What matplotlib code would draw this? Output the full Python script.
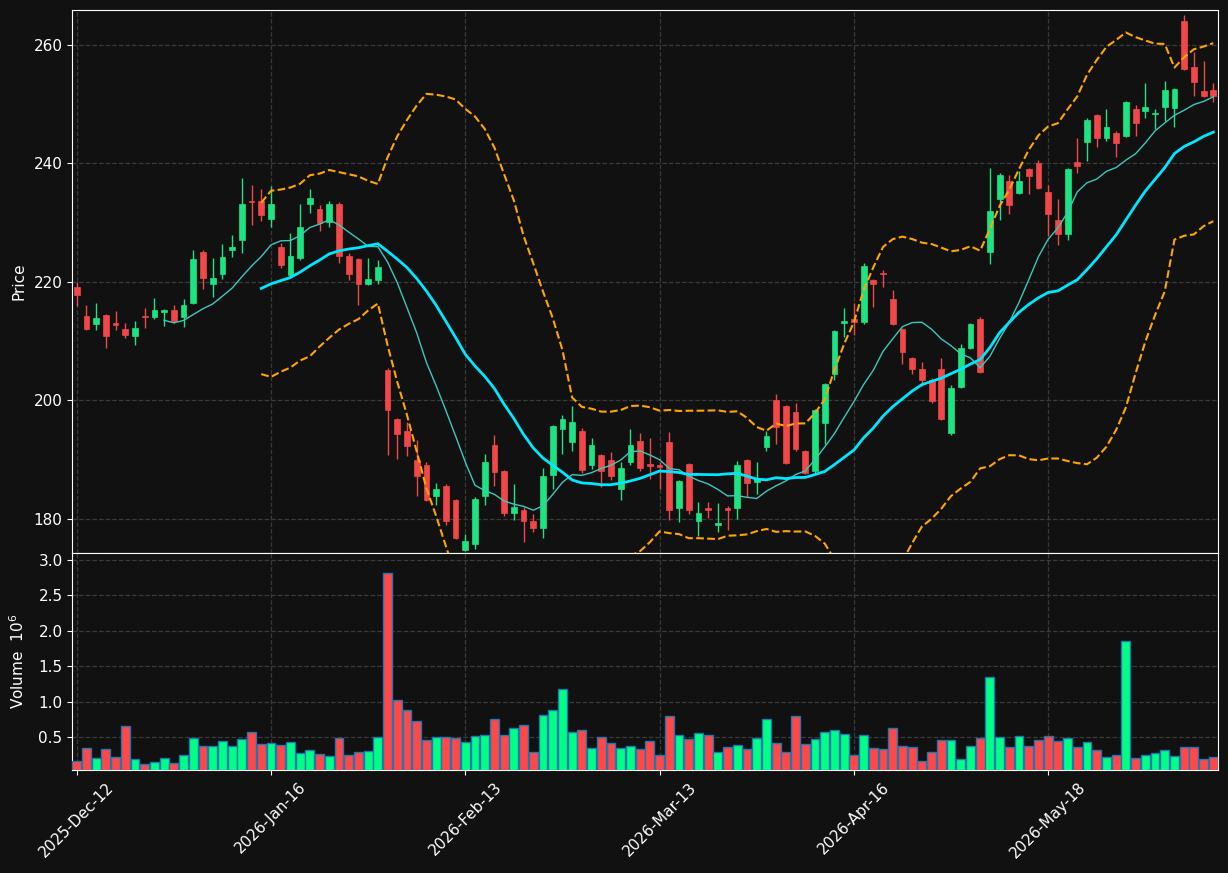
import matplotlib; matplotlib.use('Agg')
import matplotlib.pyplot as plt
import numpy as np

BG = '#111111'
UP = '#1de382'; DN = '#f04848'
VUP = '#00ff84'; VDN = '#ff4848'

opens = [219.2, 214.2, 212.8, 214.4, 213.1, 212.0, 210.9, 214.1, 214.0, 214.9,
         215.3, 214.0, 216.5, 225.1, 219.7, 221.4, 225.3, 227.0, 233.7, 233.7,
         230.6, 225.9, 221.2, 224.0, 233.1, 232.3, 230.1, 233.2, 224.4, 223.9,
         219.7, 220.3, 205.1, 196.8, 194.9, 190.0, 189.0, 183.9, 185.6, 183.2,
         174.8, 175.8, 183.8, 192.4, 188.0, 180.9, 181.5, 179.7, 178.4, 187.4,
         195.1, 192.9, 194.8, 189.0, 190.7, 190.0, 185.0, 189.5, 193.1, 189.3,
         189.0, 192.9, 181.8, 189.2, 179.7, 181.8, 178.9, 181.9, 181.9, 189.9,
         186.2, 192.1, 200.0, 199.0, 198.1, 191.4, 188.0, 196.2, 204.5, 213.0,
         213.8, 213.3, 220.3, 221.5, 217.1, 212.0, 207.1, 205.3, 203.4, 205.3,
         194.4, 202.3, 208.9, 213.8, 225.1, 234.0, 237.1, 235.0, 239.1, 240.1,
         235.2, 230.5, 228.0, 240.2, 243.6, 248.1, 244.2, 245.2, 244.6, 249.2,
         248.9, 248.3, 249.6, 249.4, 264.1, 256.3, 252.2, 252.4]
highs = [219.9, 216.1, 216.5, 214.6, 215.0, 213.1, 213.4, 215.5, 217.3, 215.4,
         216.1, 217.1, 225.3, 225.3, 224.0, 226.4, 227.9, 237.5, 236.4, 235.6,
         236.2, 226.6, 228.3, 233.2, 235.7, 232.9, 233.7, 233.5, 224.8, 224.1,
         224.0, 223.7, 205.5, 197.0, 196.3, 193.3, 189.5, 186.1, 185.8, 183.4,
         177.4, 183.6, 191.0, 194.1, 188.2, 185.9, 182.0, 180.8, 188.6, 195.8,
         197.5, 199.0, 195.3, 193.7, 190.9, 191.2, 189.6, 195.2, 194.4, 193.7,
         189.6, 194.6, 186.5, 189.4, 182.9, 182.9, 182.6, 182.1, 189.8, 190.1,
         189.6, 194.9, 201.0, 199.2, 199.6, 191.6, 198.5, 203.0, 211.9, 215.5,
         216.4, 223.2, 220.5, 222.0, 218.7, 212.2, 207.3, 206.4, 203.7, 207.2,
         202.5, 209.5, 213.0, 214.0, 239.3, 238.4, 238.0, 238.7, 239.3, 240.6,
         236.3, 234.0, 239.2, 244.2, 247.6, 248.3, 249.2, 245.4, 250.5, 249.9,
         253.6, 249.2, 253.9, 252.7, 265.1, 258.8, 257.3, 253.6]
lows = [215.9, 211.9, 211.9, 208.9, 211.8, 210.6, 209.4, 212.2, 213.8, 212.6,
        213.0, 212.4, 216.3, 218.8, 217.4, 220.5, 224.2, 224.8, 229.6, 230.2,
        229.2, 222.4, 220.8, 223.7, 231.6, 228.5, 229.3, 223.2, 220.3, 216.1,
        219.5, 219.6, 190.8, 190.1, 190.6, 183.9, 183.0, 182.3, 178.9, 176.5,
        174.6, 174.9, 182.3, 185.5, 180.5, 179.8, 176.0, 177.7, 176.7, 185.0,
        190.9, 191.4, 187.7, 188.4, 185.3, 186.6, 183.1, 189.1, 188.1, 186.7,
        185.0, 179.8, 179.5, 180.8, 177.1, 180.1, 177.7, 178.1, 179.9, 183.7,
        184.2, 191.4, 192.7, 189.2, 191.5, 187.5, 187.8, 192.7, 203.5, 210.7,
        211.0, 212.8, 215.8, 219.1, 212.7, 206.2, 204.5, 202.4, 199.6, 196.7,
        194.2, 202.1, 208.6, 204.6, 223.0, 230.5, 231.4, 234.8, 234.9, 235.7,
        227.7, 226.3, 227.1, 238.4, 240.4, 242.7, 243.7, 241.1, 244.4, 244.7,
        247.7, 245.8, 247.1, 246.2, 255.7, 251.3, 251.2, 250.3]
closes = [217.7, 212.1, 213.9, 210.9, 212.7, 211.0, 212.2, 214.0, 215.3, 215.3,
          213.4, 216.1, 223.9, 220.7, 220.7, 224.2, 225.8, 233.1, 233.5, 231.3,
          233.1, 222.9, 224.4, 229.2, 234.2, 230.0, 233.2, 224.3, 221.4, 219.7,
          220.5, 222.5, 198.4, 194.3, 192.2, 187.3, 183.2, 185.1, 179.6, 176.7,
          176.3, 183.4, 189.5, 187.9, 180.9, 182.0, 179.6, 178.5, 187.3, 195.6,
          196.8, 196.4, 188.3, 192.4, 188.1, 187.3, 188.5, 192.5, 188.5, 188.9,
          188.8, 181.5, 186.3, 181.4, 180.9, 181.5, 179.2, 181.5, 189.1, 186.0,
          186.8, 193.9, 195.5, 189.4, 191.7, 187.7, 198.3, 202.8, 211.7, 213.4,
          213.3, 222.7, 219.7, 221.3, 212.9, 208.2, 205.2, 203.4, 199.9, 196.9,
          202.0, 208.9, 212.9, 204.8, 232.0, 238.1, 232.9, 237.1, 237.9, 235.9,
          231.4, 228.1, 239.0, 239.6, 247.3, 244.2, 246.1, 243.5, 250.3, 246.8,
          249.6, 248.4, 252.4, 252.5, 255.9, 253.8, 251.4, 251.3]
# volume in millions
volumes = [0.161, 0.345, 0.203, 0.331, 0.218, 0.655, 0.189, 0.119, 0.147, 0.203,
           0.133, 0.246, 0.486, 0.373, 0.373, 0.443, 0.373, 0.472, 0.571, 0.401,
           0.415, 0.387, 0.429, 0.274, 0.316, 0.260, 0.232, 0.486, 0.246, 0.288,
           0.302, 0.500, 2.812, 1.023, 0.881, 0.726, 0.458, 0.500, 0.500, 0.486,
           0.429, 0.514, 0.528, 0.754, 0.528, 0.627, 0.669, 0.288, 0.811, 0.881,
           1.178, 0.571, 0.599, 0.345, 0.500, 0.415, 0.345, 0.373, 0.331, 0.443,
           0.246, 0.797, 0.528, 0.472, 0.556, 0.528, 0.288, 0.359, 0.387, 0.331,
           0.486, 0.754, 0.415, 0.288, 0.797, 0.401, 0.472, 0.571, 0.599, 0.542,
           0.246, 0.528, 0.345, 0.331, 0.627, 0.373, 0.359, 0.161, 0.288, 0.458,
           0.458, 0.189, 0.373, 0.486, 1.347, 0.500, 0.359, 0.514, 0.373, 0.458,
           0.514, 0.443, 0.486, 0.359, 0.429, 0.316, 0.218, 0.246, 1.856, 0.203,
           0.246, 0.274, 0.316, 0.232, 0.359, 0.359, 0.189, 0.218]
tick_labels = ['2025-Dec-12', '2026-Jan-16', '2026-Feb-13', '2026-Mar-13', '2026-Apr-16', '2026-May-18']

o = np.array(opens); h = np.array(highs); l = np.array(lows); c = np.array(closes)
v = np.array(volumes)
x = np.arange(len(c))
up = c >= o

def sma(a, n):
    out = np.full(len(a), np.nan)
    for i in range(n - 1, len(a)):
        out[i] = a[i - n + 1:i + 1].mean()
    return out

def rstd(a, n):
    out = np.full(len(a), np.nan)
    for i in range(n - 1, len(a)):
        out[i] = a[i - n + 1:i + 1].std()
    return out

ma10 = sma(c, 10); ma20 = sma(c, 20); sd20 = rstd(c, 20)
bb_up = ma20 + 2 * sd20; bb_lo = ma20 - 2 * sd20

plt.rcParams['font.family'] = 'DejaVu Sans'
fig = plt.figure(figsize=(12.28, 8.73), dpi=100, facecolor=BG)
L, W = 0.0589, 0.9327
ax = fig.add_axes([L, 0.3671, W, 0.6215], facecolor=BG)
axv = fig.add_axes([L, 0.1180, W, 0.2486], facecolor=BG, sharex=ax)

# candles
cols = np.where(up, UP, DN)
ax.vlines(x, l, h, colors=cols, lw=1.0, zorder=2)
ax.bar(x, np.maximum(np.abs(c - o), 0.15), bottom=np.minimum(o, c), width=0.6,
       color=cols, edgecolor=cols, lw=0.5, zorder=3)

# moving averages + bands
ax.plot(x, ma10, color='#3cc8bc', lw=1.0, zorder=4)
ax.plot(x, ma20, color='#00e8ff', lw=2.0, zorder=4)
ax.plot(x, bb_up, color='#ffa500', lw=1.5, ls='--', zorder=4)
ax.plot(x, bb_lo, color='#ffa500', lw=1.5, ls='--', zorder=4)

# volume
axv.bar(x, v, width=0.92, color=np.where(up, VUP, VDN), edgecolor='#1f77b4', lw=1.0, zorder=3)

ticks = np.arange(0, len(c), 20)[:len(tick_labels)]
for a in (ax, axv):
    a.grid(True, color='#3a3a3a', ls='--', lw=0.9)
    a.set_axisbelow(True)
    for s in a.spines.values():
        s.set_color('white')
    a.tick_params(colors='white', labelsize=11)
    a.set_xticks(ticks)

ax.set_xlim(-0.45, 117.45)
ax.set_ylim(174.3, 265.9)
ax.set_yticks([180, 200, 220, 240, 260])
ax.tick_params(axis='x', labelbottom=False, length=0)
ax.set_ylabel('Price', color='white', fontsize=11)

axv.set_ylim(0.038, 3.10)
axv.set_yticks([0.5, 1.0, 1.5, 2.0, 2.5, 3.0])
axv.set_yticklabels(['0.5', '1.0', '1.5', '2.0', '2.5', '3.0'])
axv.set_xticklabels(tick_labels, rotation=45, ha='center')
axv.set_ylabel('Volume  $10^{6}$', color='white', fontsize=11)

ax.yaxis.set_label_coords(-0.040, 0.5)
axv.yaxis.set_label_coords(-0.040, 0.5)

plt.savefig('out.png', dpi=100, facecolor=BG)
